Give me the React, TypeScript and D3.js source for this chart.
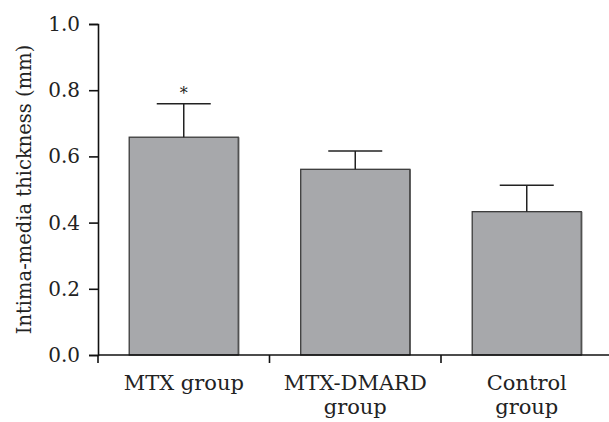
import React, { useEffect, useRef } from 'react';
import * as d3 from 'd3';

const categories = ['MTX group', 'MTX-DMARD group', 'Control group'];
const labelLines = [['MTX group'], ['MTX-DMARD', 'group'], ['Control', 'group']];
const means = [0.658, 0.561, 0.433];
const errors = [0.101, 0.055, 0.08];
const significant = [true, false, false];
const yTicks = [0, 0.2, 0.4, 0.6, 0.8, 1.0];

const App = () => {
    const ref = useRef<SVGSVGElement>(null);

    useEffect(() => {
        const width = 609;
        const height = 422;
        const svg = d3.select(ref.current);
        svg.selectAll('*').remove();

        const font = '"DejaVu Serif", serif';
        const left = 98;
        const step = 171.5;

        // scales
        const x = d3.scaleBand<string>()
            .domain(categories)
            .range([left, left + step * categories.length])
            .paddingInner(0.364)
            .paddingOuter(0.182);
        const y = d3.scaleLinear().domain([0, 1]).range([355, 24]);

        // bars
        const data = categories.map((c, i) => ({ c, m: means[i], e: errors[i], s: significant[i] }));
        svg.selectAll('rect.bar')
            .data(data)
            .enter()
            .append('rect')
            .attr('class', 'bar')
            .attr('x', d => x(d.c)!)
            .attr('y', d => y(d.m))
            .attr('width', x.bandwidth())
            .attr('height', d => y(0) - y(d.m))
            .attr('fill', '#a7a8ab')
            .attr('stroke', '#3a3a3a')
            .attr('stroke-width', 1.3);
        // darker right edge
        svg.selectAll('line.edge')
            .data(data)
            .enter()
            .append('line')
            .attr('x1', d => x(d.c)! + x.bandwidth() + 0.5)
            .attr('x2', d => x(d.c)! + x.bandwidth() + 0.5)
            .attr('y1', d => y(d.m))
            .attr('y2', y(0))
            .attr('stroke', '#555')
            .attr('stroke-width', 1.2);

        // error bars
        const cap = 54;
        const eg = svg.append('g').attr('stroke', '#222').attr('stroke-width', 1.5);
        data.forEach(d => {
            const cx = x(d.c)! + x.bandwidth() / 2;
            eg.append('line')
                .attr('x1', cx).attr('x2', cx)
                .attr('y1', y(d.m)).attr('y2', y(d.m + d.e));
            eg.append('line')
                .attr('x1', cx - cap / 2).attr('x2', cx + cap / 2)
                .attr('y1', y(d.m + d.e)).attr('y2', y(d.m + d.e));
            if (d.s) {
                svg.append('text')
                    .attr('x', cx)
                    .attr('y', y(d.m + d.e) - 5)
                    .attr('text-anchor', 'middle')
                    .attr('font-family', font)
                    .attr('font-size', 16)
                    .attr('fill', '#222')
                    .text('*');
            }
        });

        // y axis
        const yAxis = d3.axisLeft(y)
            .tickValues(yTicks)
            .tickSize(9)
            .tickPadding(9)
            .tickFormat(d3.format('.1f'));
        const gy = svg.append('g')
            .attr('transform', `translate(${left},0)`)
            .call(yAxis);
        gy.select('.domain').attr('stroke', '#111').attr('stroke-width', 1.6);
        gy.selectAll('.tick line').attr('stroke', '#111').attr('stroke-width', 1.6);
        gy.selectAll('.tick text')
            .attr('font-family', font)
            .attr('font-size', 20)
            .attr('fill', '#222');

        // x axis line + boundary ticks
        const gx = svg.append('g').attr('stroke', '#111').attr('stroke-width', 1.6);
        gx.append('line')
            .attr('x1', left).attr('x2', width)
            .attr('y1', y(0)).attr('y2', y(0));
        const gap = (x.step() - x.bandwidth()) / 2;
        categories.forEach(c => {
            const bx = x(c)! - gap;
            gx.append('line')
                .attr('x1', bx).attr('x2', bx)
                .attr('y1', y(0)).attr('y2', y(0) + 8);
        });

        // x labels
        categories.forEach((c, i) => {
            const t = svg.append('text')
                .attr('text-anchor', 'middle')
                .attr('font-family', font)
                .attr('font-size', 21)
                .attr('fill', '#222');
            labelLines[i].forEach((line, j) => {
                t.append('tspan')
                    .attr('x', x(c)! + x.bandwidth() / 2)
                    .attr('y', 390 + j * 24)
                    .text(line);
            });
        });

        // y title
        svg.append('text')
            .attr('transform', `translate(31,${y(0.5)})rotate(-90)`)
            .attr('text-anchor', 'middle')
            .attr('font-family', font)
            .attr('font-size', 19.5)
            .attr('fill', '#222')
            .text('Intima-media thickness (mm)');

        svg.attr('width', width).attr('height', height);
    }, []);

    return (
        <svg ref={ref} width={609} height={422}
            style={{ position: 'absolute', left: 0, top: 0, background: '#fff' }} />
    );
};

export default App;
